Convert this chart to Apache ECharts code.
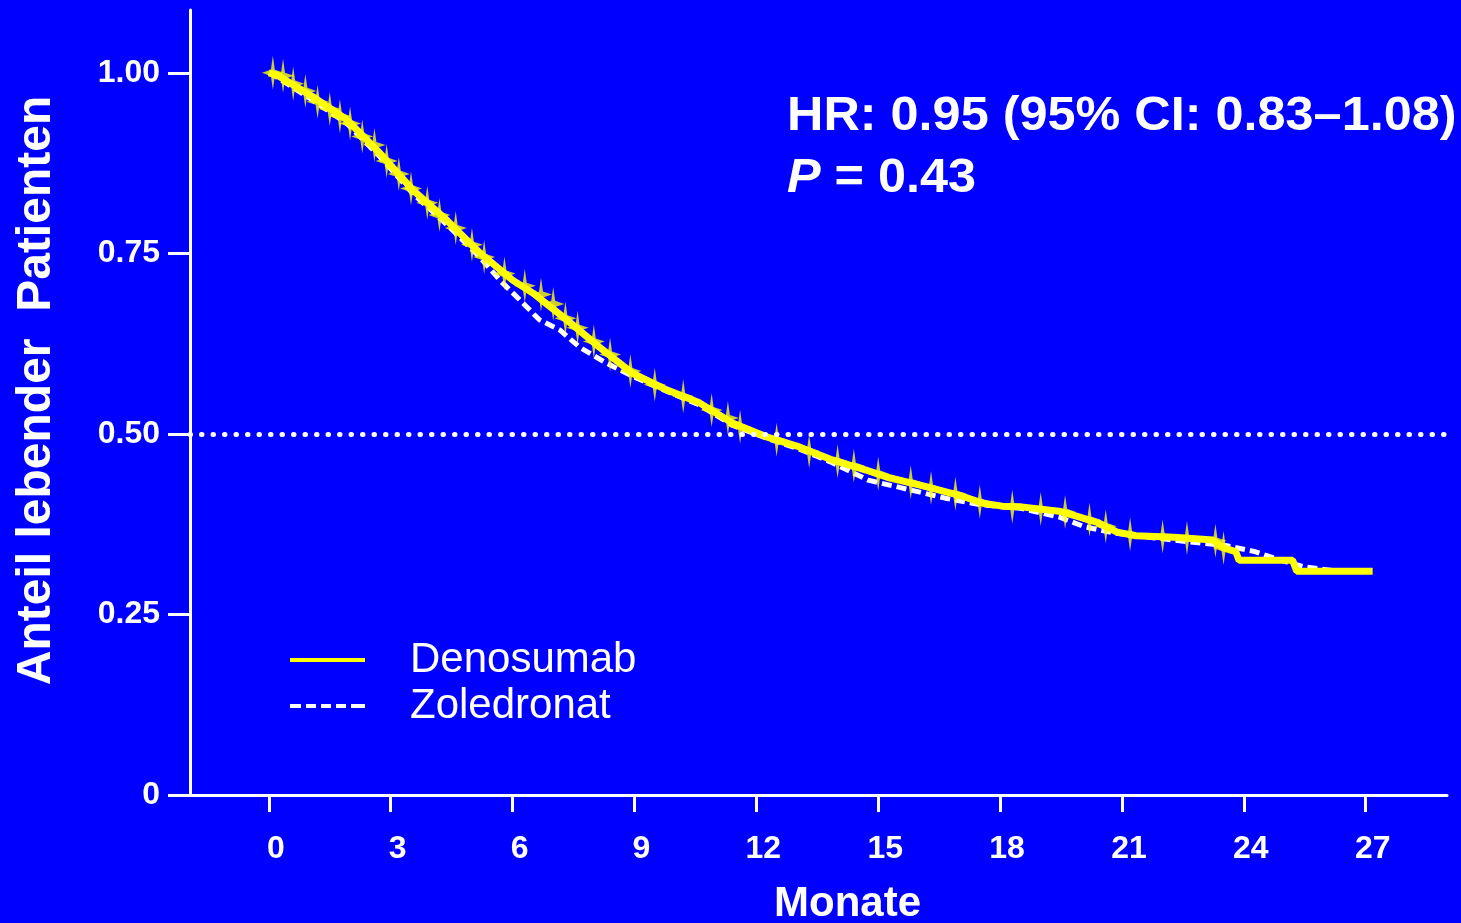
<!DOCTYPE html>
<html>
<head>
<meta charset="utf-8">
<script src="https://cdn.jsdelivr.net/npm/echarts@6/dist/echarts.min.js"></script>
<style>
html,body{margin:0;padding:0;background:#0000FF;}
#chart{width:1461px;height:923px;}
</style>
</head>
<body>
<div id="chart"></div>
<script>
// ---- data ----
var xTicks = [0, 3, 6, 9, 12, 15, 18, 21, 24, 27];
var yTicks = [0, 0.25, 0.5, 0.75, 1.0];
var yTickLabels = ['0', '0.25', '0.50', '0.75', '1.00'];
var seriesNames = ['Denosumab', 'Zoledronat'];

var denoTime = [0, 0.2, 1.08, 1.92, 2.73, 3.54, 4.38, 5.19, 6.0, 6.5, 7.33, 8.14, 8.95, 9.79, 10.6, 11.41, 12.25, 13.06, 13.87, 14.7, 15.22, 16.18, 17.11, 17.58, 18.05, 18.52, 19.45, 19.94, 20.41, 20.88, 21.34, 22.28, 23.24, 23.5, 23.8, 23.88, 25.2, 25.3, 27.17];
var denoSurv = [1.0, 0.997, 0.967, 0.935, 0.889, 0.838, 0.796, 0.751, 0.713, 0.695, 0.658, 0.620, 0.584, 0.561, 0.543, 0.515, 0.496, 0.482, 0.464, 0.450, 0.440, 0.427, 0.413, 0.404, 0.400, 0.399, 0.393, 0.385, 0.377, 0.364, 0.359, 0.357, 0.353, 0.342, 0.337, 0.325, 0.325, 0.310, 0.310];

var zoleTime = [0, 0.2, 1.08, 1.92, 2.73, 3.54, 4.38, 5.19, 5.7, 6.17, 6.66, 7.16, 7.65, 8.31, 8.95, 9.79, 10.6, 11.41, 12.25, 13.06, 13.87, 14.75, 15.6, 16.65, 17.5, 18.5, 19.45, 20.1, 20.9, 21.8, 22.75, 23.6, 24.27, 24.64, 25.1, 25.48, 26.3];
var zoleSurv = [1.0, 0.994, 0.962, 0.93, 0.884, 0.833, 0.79, 0.745, 0.712, 0.686, 0.658, 0.644, 0.62, 0.598, 0.58, 0.559, 0.540, 0.512, 0.494, 0.479, 0.460, 0.436, 0.425, 0.411, 0.402, 0.397, 0.385, 0.371, 0.362, 0.356, 0.350, 0.345, 0.337, 0.330, 0.322, 0.316, 0.310];

// censoring marks on the Denosumab curve
var censorTime = [0.1, 0.35, 0.6, 0.9, 1.2, 1.5, 1.75, 2.0, 2.3, 2.6, 2.9, 3.2, 3.5, 3.9, 4.2, 4.6, 5.0, 5.3, 5.8, 6.3, 6.7, 7.0, 7.3, 7.6, 8.0, 8.4, 8.9, 9.5, 10.2, 10.9, 11.3, 11.6, 12.5, 13.3, 14.0, 14.4, 15.0, 15.8, 16.3, 16.9, 17.5, 18.3, 19.0, 19.6, 20.2, 20.6, 21.2, 22.0, 22.6, 23.3, 23.5];
var censorSurv = [1.0, 0.996, 0.985, 0.975, 0.96, 0.95, 0.94, 0.93, 0.912, 0.9, 0.878, 0.86, 0.84, 0.82, 0.803, 0.785, 0.762, 0.745, 0.722, 0.705, 0.693, 0.68, 0.66, 0.647, 0.628, 0.61, 0.587, 0.568, 0.552, 0.533, 0.522, 0.51, 0.492, 0.476, 0.462, 0.456, 0.445, 0.433, 0.425, 0.417, 0.406, 0.399, 0.396, 0.392, 0.381, 0.372, 0.361, 0.358, 0.356, 0.352, 0.342];

var medianLevel = 0.5;
var hrText = 'HR: 0.95 (95% CI: 0.83\u20131.08)';
var pValueText = ' = 0.43';

function pairs(a, b) { return a.map(function (v, i) { return [v, b[i]]; }); }

var FONT = '"Liberation Sans", Arial, sans-serif';
var solidIcon = 'path://M0,0 H75 V4 H0 Z';
var dashIcon = 'path://M0,0 H11 V4 H0 Z M16,0 H26 V4 H16 Z M31,0 H41 V4 H31 Z M46,0 H56 V4 H46 Z M61,0 H75 V4 H61 Z';

var chart = echarts.init(document.getElementById('chart'));
chart.setOption({
  backgroundColor: '#0000FF',
  animation: false,
  grid: { left: 190, right: 14, top: 10, bottom: 128, outerBoundsMode: 'none', containLabel: false },
  xAxis: {
    type: 'value', min: -1.94, max: 29,
    name: 'Monate', nameLocation: 'middle', nameGap: 88,
    nameTextStyle: { color: '#fff', fontSize: 42, fontWeight: 'bold', fontFamily: FONT, padding: [0, 0, 0, 58] },
    axisLine: { show: true, onZero: false, lineStyle: { color: '#fff', width: 3 } },
    axisTick: { show: true, length: 17, lineStyle: { color: '#fff', width: 3 }, customValues: xTicks },
    axisLabel: { color: '#fff', fontSize: 32, fontWeight: 'bold', fontFamily: FONT, margin: 38, padding: [0, 0, 0, 14], customValues: xTicks },
    splitLine: { show: false }
  },
  yAxis: {
    type: 'value', min: 0, max: 1.087,
    name: 'Anteil lebender  Patienten', nameLocation: 'middle', nameGap: 129,
    nameTextStyle: { color: '#fff', fontSize: 48, fontWeight: 'bold', fontFamily: FONT, padding: [0, 0, 0, 24] },
    axisLine: { show: true, onZero: false, lineStyle: { color: '#fff', width: 3 } },
    axisTick: { show: true, length: 22, lineStyle: { color: '#fff', width: 3 }, customValues: yTicks },
    axisLabel: {
      color: '#fff', fontSize: 32, fontWeight: 'bold', fontFamily: FONT, margin: 30, customValues: yTicks,
      formatter: function (v) { var i = yTicks.indexOf(v); return i >= 0 ? yTickLabels[i] : ''; }
    },
    splitLine: { show: false }
  },
  legend: {
    data: [{ name: seriesNames[0], icon: solidIcon }, { name: seriesNames[1], icon: dashIcon }],
    orient: 'vertical', left: 285, top: 634,
    itemWidth: 75, itemHeight: 4, itemGap: 4,
    itemStyle: { borderWidth: 0 },
    textStyle: { color: '#fff', fontSize: 42, fontFamily: FONT, padding: [0, 0, 0, 40], lineHeight: 40 }
  },
  series: [
    {
      name: 'Zoledronat', type: 'line', symbol: 'none', z: 2,
      data: pairs(zoleTime, zoleSurv),
      lineStyle: { color: '#fff', width: 5, type: [10, 5] },
      itemStyle: { color: '#fff' },
      markLine: {
        silent: true, symbol: 'none', label: { show: false },
        lineStyle: { color: '#fff', width: 5, type: [0.5, 11], cap: 'round' },
        data: [{ yAxis: medianLevel }]
      }
    },
    {
      name: 'Denosumab', type: 'line', symbol: 'none', z: 3,
      data: pairs(denoTime, denoSurv),
      lineStyle: { color: '#FFFF00', width: 7 },
      itemStyle: { color: '#FFFF00' }
    },
    {
      name: 'censor', type: 'scatter', z: 4,
      data: pairs(censorTime, censorSurv),
      symbol: 'path://M0,-10 L1.8,-1.8 L10,0 L1.8,1.8 L0,10 L-1.8,1.8 L-10,0 L-1.8,-1.8 Z',
      symbolSize: [22, 34],
      itemStyle: { color: '#FFFF00' }
    }
  ],
  graphic: [
    { type: 'text', left: 787, top: 93, scaleX: 1.05, style: { text: hrText, fill: '#fff', font: 'bold 48px ' + FONT } },
    { type: 'text', left: 787, top: 155, scaleX: 1.05, style: {
        text: '{i|P}{n|' + pValueText + '}',
        rich: {
          i: { fill: '#fff', font: 'italic bold 48px ' + FONT },
          n: { fill: '#fff', font: 'bold 48px ' + FONT }
        }
      } }
  ]
});
</script>
</body>
</html>
